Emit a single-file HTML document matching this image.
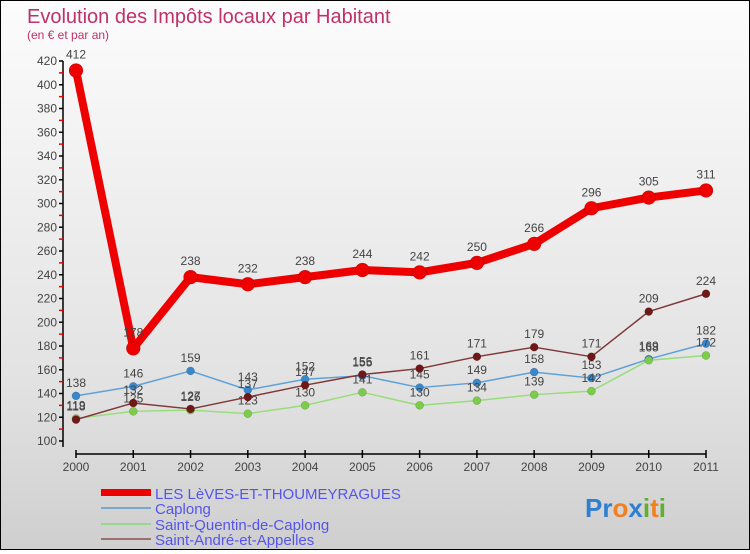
<!DOCTYPE html>
<html><head><meta charset="utf-8">
<style>
html,body{margin:0;padding:0;}
body{width:750px;height:550px;overflow:hidden;font-family:"Liberation Sans",sans-serif;}
#wrap{position:relative;width:748px;height:548px;border:1px solid #000;background:linear-gradient(#fcfcfc,#e2e2e2 70%,#cfcfcf);}
</style></head>
<body>
<div id="wrap">
<svg id="chart" width="748" height="548">
<text x="26" y="22" font-size="20" fill="#c0306a">Evolution des Impôts locaux par Habitant</text>
<text x="26" y="38" font-size="12" fill="#c0306a">(en € et par an)</text>
<g id="axes"></g>
<g id="series"></g>
<g id="legend">
<rect x="100" y="488" width="50" height="7" fill="#ee0000"/>
<text x="154" y="498" font-size="15" fill="#5555ee">LES LèVES-ET-THOUMEYRAGUES</text>
<rect x="100" y="506" width="50" height="2" fill="#7aa8cc"/>
<text x="154" y="513" font-size="15" fill="#5555ee">Caplong</text>
<rect x="100" y="522" width="50" height="2" fill="#99d88a"/>
<text x="154" y="529" font-size="15" fill="#5555ee">Saint-Quentin-de-Caplong</text>
<rect x="100" y="537" width="50" height="2" fill="#9a7070"/>
<text x="154" y="544" font-size="15" fill="#5555ee">Saint-André-et-Appelles</text>
</g>
<g font-size="26" font-weight="bold">
<text x="584" y="516"><tspan fill="#2f7fd0">Pr</tspan><tspan fill="#f08020">o</tspan><tspan fill="#2f7fd0">x</tspan><tspan fill="#60b030">i</tspan><tspan fill="#f08020">t</tspan><tspan fill="#60b030">i</tspan></text>
</g>
</svg>
</div>
<script>
const years = [2000,2001,2002,2003,2004,2005,2006,2007,2008,2009,2010,2011];
const lesLeves = [412,178,238,232,238,244,242,250,266,296,305,311];
const caplong = [138,146,159,143,152,155,145,149,158,153,169,182];
const saintQuentin = [119,125,126,123,130,141,130,134,139,142,168,172];
const saintAndre = [118,132,127,137,147,156,161,171,179,171,209,224];
const yTicks = [100,120,140,160,180,200,220,240,260,280,300,320,340,360,380,400,420];

const NS = "http://www.w3.org/2000/svg";
const x0 = 75, x1 = 705, yMin = 100, yMax = 420, yBot = 440, yTop = 60;
function xs(i){ return x0 + (x1 - x0) * i / (years.length - 1); }
function ys(v){ return yBot - (v - yMin) * (yBot - yTop) / (yMax - yMin); }
function mk(tag, attrs, parent){ const e = document.createElementNS(NS, tag); for (const k in attrs) e.setAttribute(k, attrs[k]); parent.appendChild(e); return e; }

const axes = document.getElementById('axes');
const ax = mk('line', {x1:62,y1:ys(yMax),x2:62,y2:yBot+6,stroke:'#000','stroke-width':1.5}, axes);


const xax = mk('line', {x1:x0,y1:453,x2:x1,y2:453,stroke:'#000','stroke-width':1.5}, axes);


yTicks.forEach(v => {
  const y = ys(v);
  mk('line', {x1:58,y1:y,x2:62,y2:y,stroke:'#000','stroke-width':1.5}, axes);
  if (v < yMax) mk('line', {x1:58,y1:ys(v+10),x2:62,y2:ys(v+10),stroke:'#e00','stroke-width':1.5}, axes);
  const t = mk('text', {x:56,y:y+4,'font-size':12,'text-anchor':'end',fill:'#444'}, axes);
  t.textContent = v;
  
  
});
years.forEach((yr, i) => {
  const x = xs(i);
  mk('line', {x1:x,y1:449,x2:x,y2:457,stroke:'#000','stroke-width':1.5}, axes);
  const t = mk('text', {x:x,y:470,'font-size':12,'text-anchor':'middle',fill:'#444'}, axes);
  t.textContent = yr;
  
  
});

const series = document.getElementById('series');
function draw(vals, color, dot, width, r, name, labelColor, fs){
  const g = mk('g', {}, series);
  
  
  const pts = vals.map((v,i) => xs(i) + ',' + ys(v)).join(' ');
  const pl = mk('polyline', {points:pts,fill:'none',stroke:color,'stroke-width':width,'stroke-linejoin':'round'}, g);
  
  
  vals.forEach((v,i) => {
    const c = mk('circle', {cx:xs(i),cy:ys(v),r:r,fill:dot,stroke:'rgba(0,0,0,0.25)','stroke-width':0.5}, g);
    
    
    const t = mk('text', {x:xs(i),y:ys(v)-r-5,'font-size':fs,'text-anchor':'middle',fill:labelColor}, g);
    t.textContent = v;
    
    
  });
}
draw(caplong, '#5ea0d8', '#3a88cc', 1.5, 4, 'caplong', '#444', 12);
draw(saintQuentin, '#98dd7a', '#7ccc4a', 1.5, 4, 'saint-quentin', '#444', 12);
draw(saintAndre, '#803838', '#701818', 1.5, 4, 'saint-andre', '#444', 12);
draw(lesLeves, '#ee0000', '#ee0000', 8, 7, 'les-leves', '#444', 12);
</script>
</body></html>
